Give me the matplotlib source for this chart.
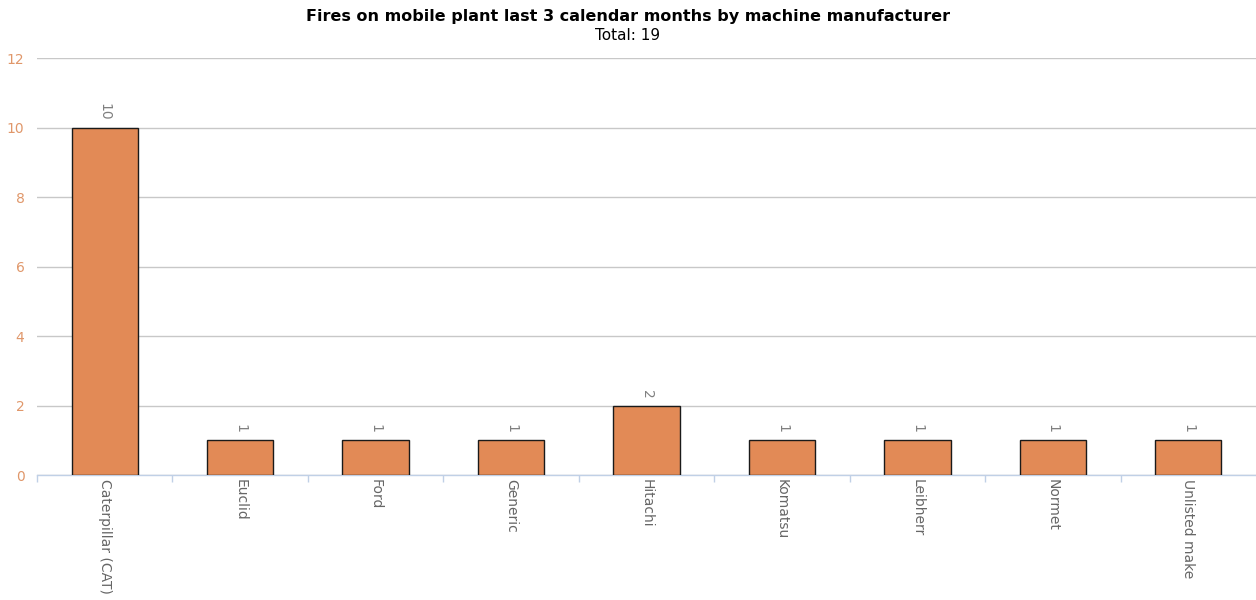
import matplotlib
matplotlib.use("Agg")
import matplotlib.pyplot as plt
import numpy as np

plt.rcParams['font.family'] = ['DejaVu Sans']

# data
makers = ["Caterpillar (CAT)", "Euclid", "Ford", "Generic", "Hitachi",
          "Komatsu", "Leibherr", "Normet", "Unlisted make"]
fires = [10, 1, 1, 1, 2, 1, 1, 1, 1]

title = "Fires on mobile plant last 3 calendar months by machine manufacturer"
subtitle = "Total: 19"

bar_color = "#E28A56"
tick_color = "#666666"
ytick_color = "#E0976A"
grid_color = "#C8C8C8"
axis_color = "#C0D0E6"

fig = plt.figure(figsize=(12.56, 6.0), dpi=100)
ax = fig.add_axes([0.0295, 0.2083, 0.9705, 0.695])

x = np.arange(len(makers))
ax.bar(x, fires, width=0.49, color=bar_color, edgecolor="#1a1a1a", linewidth=1.0, zorder=3)

for xi, v in zip(x, fires):
    ax.annotate(str(v), (xi, v), xytext=(0, 5), textcoords="offset points",
                ha="center", va="bottom", rotation=270, fontsize=10, color="#808080")

ax.set_xlim(-0.5, len(makers) - 0.5)
ax.set_ylim(0, 12)
ax.set_yticks(np.arange(0, 13, 2))
ax.yaxis.grid(True, color=grid_color, linewidth=1.0, zorder=0)
ax.tick_params(axis="y", length=0, labelcolor=ytick_color, labelsize=10, pad=9)

# category labels at centres, ticks at category boundaries
ax.set_xticks(x)
ax.set_xticklabels(makers, rotation=270, fontsize=10, color=tick_color)
ax.tick_params(axis="x", which="major", length=0, pad=3)
ax.set_xticks(np.arange(len(makers)) - 0.5, minor=True)
ax.tick_params(axis="x", which="minor", length=5, color=axis_color, width=1)

for s in ["top", "right", "left"]:
    ax.spines[s].set_visible(False)
ax.spines["bottom"].set_color(axis_color)
ax.spines["bottom"].set_linewidth(1)

fig.text(0.5, 0.973, title, ha="center", va="center", fontsize=11.5, fontweight="bold")
fig.text(0.5, 0.94, subtitle, ha="center", va="center", fontsize=11)

fig.savefig("out.png", dpi=100)
